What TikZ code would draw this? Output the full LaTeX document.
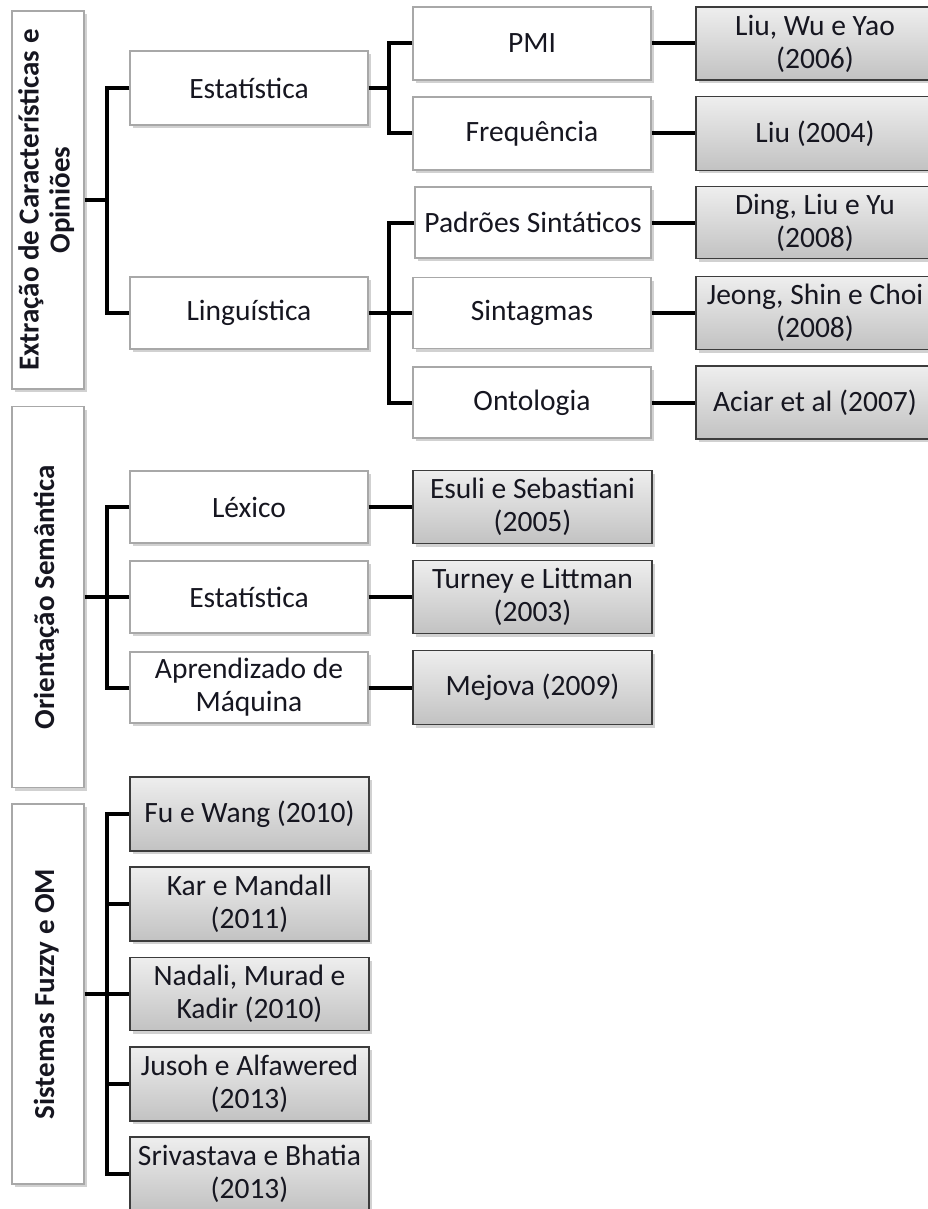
\documentclass[tikz,border=0pt]{standalone}
\usepackage{fontspec}
\usepackage{graphicx}
\setmainfont{Carlito}
\usetikzlibrary{shadows}
\definecolor{boxline}{HTML}{A8A8A8}
\definecolor{refline}{HTML}{3C3C3C}
\definecolor{reftop}{HTML}{EEEEEE}
\definecolor{refbot}{HTML}{C2C2C2}
\definecolor{txt}{HTML}{161620}
\tikzset{
  softshadow/.style={drop shadow={shadow xshift=2.5pt, shadow yshift=-3pt, opacity=0.3, fill=black!60}},
  topic/.style={draw=boxline, line width=1.2pt, fill=white, softshadow, inner sep=0pt,
    text=txt, align=center, font=\fontsize{29.5}{33}\selectfont},
  refbox/.style={draw=refline, line width=1.6pt, top color=reftop, bottom color=refbot, softshadow,
    inner sep=0pt, text=txt, align=center, font=\fontsize{29.5}{33}\selectfont},
  rootbox/.style={draw=boxline, line width=1.2pt, fill=white, softshadow, inner sep=0pt,
    minimum width=72pt, text=txt, font=\bfseries\fontsize{29}{31}\selectfont},
  conn/.style={line width=4pt, black}
}
\newcommand{\vlabel}[1]{\rotatebox{90}{\begin{tabular}{@{}c@{}}#1\end{tabular}}}
\begin{document}
\begin{tikzpicture}[x=1pt, y=-1pt]
\useasboundingbox (0,0) rectangle (927,1209);

% ---- Extração de Características e Opiniões ----
\node[rootbox, minimum height=378pt] (ext) at (48,200) {\vlabel{Extração de Características e\\Opiniões}};
\node[topic, minimum width=238pt, minimum height=74pt] (est1) at (249,88) {Estatística};
\node[topic, minimum width=238pt, minimum height=72pt] (ling) at (249,313) {Linguística};

\node[topic, minimum width=238pt, minimum height=73pt] (pmi)  at (532,43.5)  {PMI};
\node[topic, minimum width=238pt, minimum height=73pt] (freq) at (532,133.5) {Frequência};
\node[topic, minimum width=236pt, minimum height=71pt] (pad)  at (533,222.5) {Padrões Sintáticos};
\node[topic, minimum width=238pt, minimum height=71pt] (sint) at (532,313)   {Sintagmas};
\node[topic, minimum width=238pt, minimum height=71pt] (ont)  at (532,402.5) {Ontologia};

\node[refbox, minimum width=238pt, minimum height=73pt] (liuwu)  at (815,43.5)  {Liu, Wu e Yao\\(2006)};
\node[refbox, minimum width=238pt, minimum height=74pt] (liu)    at (815,133.5) {Liu (2004)};
\node[refbox, minimum width=238pt, minimum height=72pt] (ding)   at (815,222.5) {Ding, Liu e Yu\\(2008)};
\node[refbox, minimum width=238pt, minimum height=73pt] (jeong)  at (815,313)   {Jeong, Shin e Choi\\(2008)};
\node[refbox, minimum width=238pt, minimum height=73pt] (aciar)  at (815,402.5) {Aciar et al (2007)};

% ---- Orientação Semântica ----
\node[rootbox, minimum height=381pt] (ori) at (48,597) {\vlabel{Orientação Semântica}};
\node[topic, minimum width=238pt, minimum height=72pt] (lex)  at (249,507) {Léxico};
\node[topic, minimum width=238pt, minimum height=72pt] (est2) at (249,597) {Estatística};
\node[topic, minimum width=238pt, minimum height=71pt] (apr)  at (249,687.5) {Aprendizado de\\Máquina};

\node[refbox, minimum width=239pt, minimum height=73pt] (esuli)  at (532.5,507)   {Esuli e Sebastiani\\(2005)};
\node[refbox, minimum width=239pt, minimum height=73pt] (turney) at (532.5,597)   {Turney e Littman\\(2003)};
\node[refbox, minimum width=239pt, minimum height=74pt] (mejova) at (532.5,687.5) {Mejova (2009)};

% ---- Sistemas Fuzzy e OM ----
\node[rootbox, minimum height=380pt] (fuz) at (48,994) {\vlabel{Sistemas Fuzzy e OM}};
\node[refbox, minimum width=239pt, minimum height=74pt] (fu)    at (249.5,814)  {Fu e Wang (2010)};
\node[refbox, minimum width=239pt, minimum height=74pt] (kar)   at (249.5,904)  {Kar e Mandall\\(2011)};
\node[refbox, minimum width=239pt, minimum height=73pt] (nad)   at (249.5,994)  {Nadali, Murad e\\Kadir (2010)};
\node[refbox, minimum width=239pt, minimum height=74pt] (jus)   at (249.5,1084) {Jusoh e Alfawered\\(2013)};
\node[refbox, minimum width=239pt, minimum height=74pt] (sri)   at (249.5,1174) {Srivastava e Bhatia\\(2013)};

% ---- bracket junctions ----
\coordinate (j1) at (107,200);
\coordinate (j2) at (389,88);
\coordinate (j3) at (389,313);
\coordinate (j4) at (107,597);
\coordinate (j5) at (107,994);

% ---- connectors ----
\draw[conn] (ext.east) -- (j1);
\draw[conn] (est1.west) -| (j1) |- (ling.west);

\draw[conn] (est1.east) -- (j2);
\draw[conn] (pmi.west) -| (j2) |- (freq.west);

\draw[conn] (ling.east) -- (j3) -- (sint.west);
\draw[conn] (pad.west) -| (j3) |- (ont.west);

\draw[conn] (pmi.east)  -- (liuwu.west);
\draw[conn] (freq.east) -- (liu.west);
\draw[conn] (pad.east)  -- (ding.west);
\draw[conn] (sint.east) -- (jeong.west);
\draw[conn] (ont.east)  -- (aciar.west);

\draw[conn] (ori.east) -- (j4) -- (est2.west);
\draw[conn] (lex.west) -| (j4) |- (apr.west);
\draw[conn] (lex.east)  -- (esuli.west);
\draw[conn] (est2.east) -- (turney.west);
\draw[conn] (apr.east)  -- (mejova.west);

\draw[conn] (fuz.east) -- (j5) -- (nad.west);
\draw[conn] (fu.west) -| (j5) |- (sri.west);
\draw[conn] (j5 |- kar.west) -- (kar.west);
\draw[conn] (j5 |- jus.west) -- (jus.west);
\end{tikzpicture}
\end{document}
